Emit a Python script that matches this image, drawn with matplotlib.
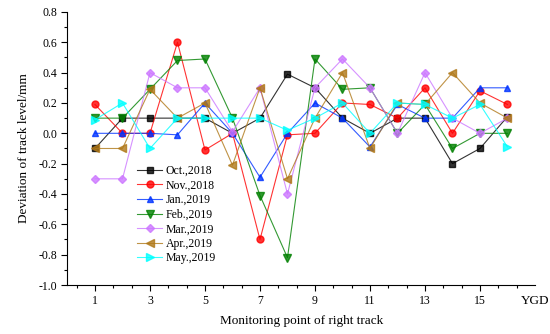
import matplotlib.pyplot as plt
import numpy as np

plt.rcParams['font.family'] = ['Liberation Serif', 'DejaVu Serif']
plt.rcParams['axes.unicode_minus'] = False

# monitoring points 1..16
points = list(range(1, 17))

oct_2018 = [-0.1, 0.1, 0.1, 0.1, 0.1, 0.0, 0.1, 0.39, 0.3, 0.1, 0.0, 0.1, 0.1, -0.2, -0.1, 0.11]
nov_2018 = [0.19, 0.0, 0.0, 0.6, -0.11, 0.0, -0.70, -0.01, 0.0, 0.2, 0.19, 0.1, 0.3, 0.0, 0.28, 0.19]
jan_2019 = [0.0, 0.0, 0.0, -0.01, 0.2, 0.0, -0.29, 0.0, 0.2, 0.1, -0.09, 0.19, 0.1, 0.1, 0.3, 0.3]
feb_2019 = [0.1, 0.1, 0.29, 0.48, 0.49, 0.1, -0.41, -0.82, 0.49, 0.29, 0.3, 0.0, 0.19, -0.1, 0.0, 0.0]
mar_2019 = [-0.3, -0.3, 0.4, 0.3, 0.3, 0.01, 0.3, -0.4, 0.3, 0.49, 0.3, 0.0, 0.4, 0.1, 0.0, 0.1]
apr_2019 = [-0.1, -0.1, 0.29, 0.1, 0.2, -0.21, 0.3, -0.3, 0.1, 0.4, -0.1, 0.2, 0.19, 0.4, 0.2, 0.1]
may_2019 = [0.09, 0.2, -0.1, 0.1, 0.1, 0.1, 0.1, 0.02, 0.1, 0.2, 0.0, 0.2, 0.19, 0.1, 0.19, -0.09]

labels = ['Oct.,2018', 'Nov.,2018', 'Jan.,2019', 'Feb.,2019', 'Mar.,2019', 'Apr.,2019', 'May.,2019']
series = [oct_2018, nov_2018, jan_2019, feb_2019, mar_2019, apr_2019, may_2019]
colors = ['#000000', '#ff0000', '#0033ff', '#008000', '#cc77ff', '#b07818', '#00ffff']
markers = ['s', 'o', '^', 'v', 'D', '<', '>']
msizes = [4, 5, 5, 5.5, 4.5, 5.5, 5.5]

xtick_pos = list(range(1, 16, 2)) + [17]
xtick_lab = [str(v) for v in range(1, 16, 2)] + ['YGD']
ytick_vals = [-1.0, -0.8, -0.6, -0.4, -0.2, 0.0, 0.2, 0.4, 0.6, 0.8]

fig = plt.figure(figsize=(5.5, 3.34), dpi=100)
ax = fig.add_axes([0.1227, 0.1467, 0.8500, 0.8175])

for vals, lab, c, m, ms in zip(series, labels, colors, markers, msizes):
    ax.plot(points, vals, color=c, lw=0.8, alpha=0.8, marker=m, markersize=ms,
            markerfacecolor=c, markeredgecolor=c, label=lab)

ax.set_xlim(0, 17)
ax.set_ylim(-1.0, 0.8)

# Origin style axes: only left and bottom
ax.spines['top'].set_visible(False)
ax.spines['right'].set_visible(False)

ax.set_xticks(xtick_pos)
ax.set_xticklabels(xtick_lab)
ax.xaxis.get_major_ticks()[-1].tick1line.set_visible(False)
minor_x = [1 + k * 2 / 3 for k in range(-1, 24) if k % 3 != 0]
ax.set_xticks(minor_x, minor=True)
ax.set_yticks(ytick_vals)
ax.set_yticks(np.arange(-0.9, 0.8, 0.2), minor=True)
ax.set_yticklabels([f'{v:.1f}' for v in ytick_vals])

ax.tick_params(which='major', direction='out', length=4, width=0.8, labelsize=8.5)
ax.tick_params(which='minor', direction='out', length=2.5, width=0.8)
ax.tick_params(axis='x', pad=3)
ax.get_xticklabels()[-1].set_fontsize(9.5)

ax.set_xlabel('Monitoring point of right track', fontsize=9.5, labelpad=6)
ax.set_ylabel('Deviation of track level/mm', fontsize=9.5, labelpad=6)

ax.legend(loc='upper left', bbox_to_anchor=(0.149, 0.44), frameon=False,
          fontsize=8.5, handlelength=2.1, handletextpad=0.3, labelspacing=0.22,
          borderpad=0, borderaxespad=0)

fig.savefig('out.png', dpi=100)
